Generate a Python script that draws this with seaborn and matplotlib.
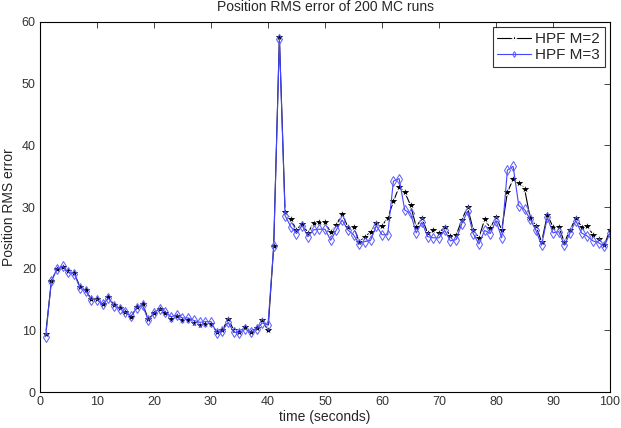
import numpy as np
import pandas as pd
import seaborn as sns
import matplotlib.pyplot as plt

# time steps and RMS error (one point per second)
t = np.arange(1, 101)

hpf_m2 = [9.4, 18.0, 20.0, 20.3, 19.6, 19.3, 17.1, 16.5, 15.1, 15.1,
          14.3, 15.4, 14.1, 13.6, 13.0, 12.2, 13.8, 14.3, 11.8, 12.8,
          13.4, 12.8, 11.8, 12.3, 11.6, 11.7, 11.2, 10.9, 11.0, 11.1,
          9.8, 10.0, 11.9, 10.0, 9.8, 10.5, 9.8, 10.4, 11.6, 10.0,
          23.6, 57.5, 29.2, 28.0, 26.3, 27.3, 25.8, 27.4, 27.5, 27.5,
          25.9, 27.1, 28.9, 26.8, 26.8, 24.4, 25.1, 26.0, 27.4, 27.0,
          28.2, 30.9, 33.3, 32.4, 30.3, 26.8, 28.2, 25.8, 26.3, 25.8,
          26.8, 25.3, 25.4, 27.9, 30.0, 26.3, 25.0, 28.0, 26.6, 28.4,
          26.3, 32.4, 34.5, 33.9, 33.0, 28.2, 27.0, 24.3, 28.7, 26.8,
          26.8, 24.3, 26.3, 28.2, 26.8, 27.0, 25.5, 24.8, 23.8, 26.3]

hpf_m3 = [9.0, 18.0, 20.0, 20.4, 19.4, 19.2, 16.9, 16.4, 15.0, 15.0,
          14.2, 15.2, 14.0, 13.5, 12.9, 12.3, 13.7, 14.1, 11.6, 12.8,
          13.5, 13.0, 12.2, 12.5, 12.0, 12.0, 11.6, 11.3, 11.4, 11.4,
          9.6, 9.9, 11.3, 9.7, 9.6, 10.2, 9.7, 10.2, 11.2, 10.9,
          23.6, 57.3, 28.6, 26.8, 25.7, 27.0, 25.2, 26.3, 26.4, 26.4,
          24.6, 26.3, 27.9, 26.3, 25.5, 24.0, 24.4, 24.6, 27.0, 25.5,
          25.5, 34.2, 34.6, 29.5, 29.0, 25.8, 27.5, 25.2, 25.0, 25.0,
          26.2, 24.5, 24.7, 27.3, 29.3, 25.7, 24.0, 26.2, 25.7, 27.8,
          25.0, 36.0, 36.6, 30.2, 29.6, 28.0, 26.2, 23.8, 28.3, 25.8,
          26.0, 23.8, 25.8, 27.8, 25.8, 25.3, 24.5, 24.2, 23.6, 25.8]

df = pd.DataFrame({"time": np.concatenate([t, t]),
                   "err": hpf_m2 + hpf_m3,
                   "series": ["HPF M=2"] * 100 + ["HPF M=3"] * 100})

sns.set_style("white")
plt.rcParams['font.family'] = ['Liberation Sans', 'DejaVu Sans']

fig = plt.figure(figsize=(6.21, 4.28), dpi=100)
ax = fig.add_axes([0.0644, 0.0841, 0.9179, 0.8645])

sns.lineplot(data=df[df.series == "HPF M=2"], x="time", y="err", ax=ax,
             color="black", lw=0.8, marker="*", markersize=7,
             markeredgewidth=0.8, label="HPF M=2")
sns.lineplot(data=df[df.series == "HPF M=3"], x="time", y="err", ax=ax,
             color="#4444ff", lw=0.8, marker="d", markersize=5,
             mfc="none", mec="#5a5aff", markeredgewidth=0.7, label="HPF M=3")

ax.set_xlim(0, 100)
ax.set_ylim(0, 60)
ax.set_xticks(range(0, 101, 10))
ax.set_yticks(range(0, 61, 10))
ax.tick_params(direction="in", length=4, width=0.6, top=True, right=True,
               labelsize=9, labelcolor="#333333", pad=3)
for s in ax.spines.values():
    s.set_color("black")
    s.set_linewidth(0.8)

ax.set_xlabel("time (seconds)", fontsize=10, labelpad=1)
ax.set_ylabel("Position RMS error", fontsize=10, labelpad=4)
ax.set_title("Position RMS error of 200 MC runs", fontsize=10, pad=8)

leg = ax.legend(loc="upper right", fontsize=11, frameon=True, fancybox=False,
                borderpad=0.3, handlelength=2.2, handletextpad=0.3,
                labelspacing=0.15, borderaxespad=0.35, markerscale=0.6)
leg.get_frame().set_edgecolor("black")
leg.get_frame().set_linewidth(0.8)

fig.savefig("out.png", dpi=100)
